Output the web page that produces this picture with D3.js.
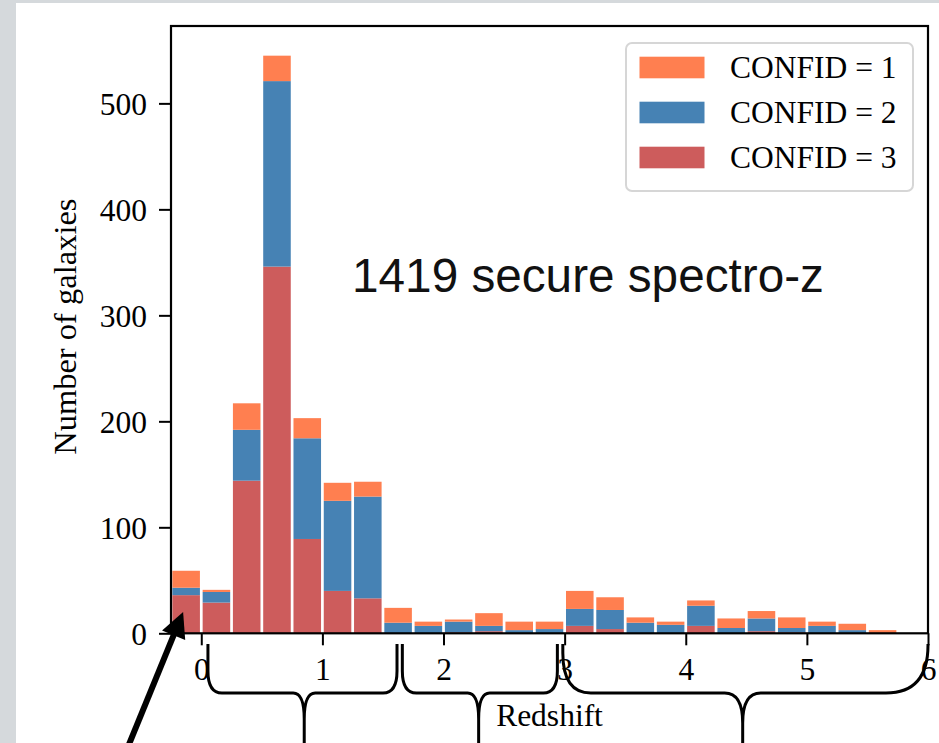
<!DOCTYPE html>
<html>
<head>
<meta charset="utf-8">
<script src="https://cdn.jsdelivr.net/npm/d3@7/dist/d3.min.js"></script>
<style>
  html, body { margin: 0; padding: 0; background: #d5d9dc; }
  svg { display: block; }
</style>
</head>
<body>
<svg id="chart" width="939" height="743"></svg>
<script>
// ---------------- data ----------------
const binStarts = [-0.25, 0, 0.25, 0.5, 0.75, 1.0, 1.25, 1.5, 1.75, 2.0, 2.25, 2.5,
                   2.75, 3.0, 3.25, 3.5, 3.75, 4.0, 4.25, 4.5, 4.75, 5.0, 5.25, 5.5];
const binWidth = 0.25;
const confid3 = [36, 29, 144, 346, 89, 40, 33, 0, 0, 1, 2, 0, 0, 7, 4, 0, 0, 7, 0, 2, 1, 0, 0, 0];
const confid2 = [7, 10, 48, 175, 95, 85, 96, 10, 7, 10, 5, 3, 4, 16, 18, 10, 8, 19, 5, 12, 4, 7, 3, 0];
const confid1 = [16, 2, 25, 24, 19, 17, 14, 14, 4, 2, 12, 8, 7, 17, 12, 5, 3, 5, 9, 7, 10, 4, 6, 3];
const seriesKeys = ["c3", "c2", "c1"];
const seriesLabels = { c1: "CONFID = 1", c2: "CONFID = 2", c3: "CONFID = 3" };
const seriesColors = { c1: "#ff7f50", c2: "#4682b4", c3: "#cd5c5c" };
const legendOrder = ["c1", "c2", "c3"];
const xTicks = [0, 1, 2, 3, 4, 5, 6];
const yTicks = [0, 100, 200, 300, 400, 500];
const xDomain = [-0.25, 6];
const yDomain = [0, 573];
const annotationText = "1419 secure spectro-z";
// braces: [start z, end z, cusp z]
const braces = [
  { x0: 0.055, x1: 1.616, xc: 0.85, rl: [14, 22], rr: [14, 22], cw: 11, cv: 26 },
  { x0: 1.66,  x1: 2.94,  xc: 2.29, rl: [14, 22], rr: [14, 22], cw: 11, cv: 26 },
  { x0: 2.985, x1: 6.0,   xc: 4.47, rl: [28, 40], rr: [42, 48], cw: 18, cv: 30 }
];
const arrowTip = { z: -0.15, n: 20 };

// ---------------- layout ----------------
const W = 939, H = 743;
const plot = { left: 171, right: 928, top: 26, bottom: 633.3 };
const serif = "'Liberation Serif', 'Times New Roman', Times, serif";
const sans = "'Liberation Sans', Arial, Helvetica, sans-serif";
const fs = 31.5;

const svg = d3.select("#chart");
svg.append("rect").attr("x", 0).attr("y", 0).attr("width", W).attr("height", H).attr("fill", "#d5d9dc");
svg.append("rect").attr("x", 16).attr("y", 3).attr("width", W - 16).attr("height", H - 3).attr("fill", "#ffffff");

const x = d3.scaleLinear().domain(xDomain).range([plot.left, plot.right]);
const y = d3.scaleLinear().domain(yDomain).range([plot.bottom, plot.top]);

const rows = binStarts.map((b, i) => ({ start: b, c3: confid3[i], c2: confid2[i], c1: confid1[i] }));
const stacked = d3.stack().keys(seriesKeys)(rows);

const rwidth = 0.91;
const g = svg.append("g");
stacked.forEach(layer => {
  g.append("g").attr("fill", seriesColors[layer.key])
    .selectAll("rect").data(layer).join("rect")
    .attr("x", d => x(d.data.start + binWidth * (1 - rwidth) / 2))
    .attr("width", d => x(d.data.start + binWidth * (1 + rwidth) / 2) - x(d.data.start + binWidth * (1 - rwidth) / 2))
    .attr("y", d => y(d[1]))
    .attr("height", d => Math.max(0, y(d[0]) - y(d[1])));
});

// axes
const xAxis = d3.axisBottom(x).tickValues(xTicks).tickSize(12).tickPadding(14).tickFormat(d3.format("d"));
const yAxis = d3.axisLeft(y).tickValues(yTicks).tickSize(12).tickPadding(12).tickFormat(d3.format("d"));

const gx = svg.append("g").attr("transform", `translate(0,${plot.bottom})`).call(xAxis);
const gy = svg.append("g").attr("transform", `translate(${plot.left},0)`).call(yAxis);
[gx, gy].forEach(ax => {
  ax.select(".domain").remove();
  ax.selectAll(".tick line").attr("stroke", "#000").attr("stroke-width", 2);
  ax.selectAll(".tick text").attr("fill", "#000").style("font-family", serif).style("font-size", fs + "px");
});
gx.selectAll(".tick text").attr("dy", null).attr("y", 680 - plot.bottom).attr("dominant-baseline", "alphabetic");
gy.selectAll(".tick text").attr("dy", "0.35em");

// frame
svg.append("rect").attr("x", plot.left).attr("y", plot.top)
  .attr("width", plot.right - plot.left).attr("height", plot.bottom - plot.top)
  .attr("fill", "none").attr("stroke", "#000").attr("stroke-width", 2.2);

// axis labels
svg.append("text").attr("x", (plot.left + plot.right) / 2).attr("y", 726)
  .attr("text-anchor", "middle").style("font-family", serif).style("font-size", fs + "px")
  .text("Redshift");
svg.append("text").attr("transform", `translate(76,${(plot.top + plot.bottom) / 2 - 3}) rotate(-90)`)
  .attr("text-anchor", "middle").style("font-family", serif).style("font-size", "32.5px")
  .text("Number of galaxies");

// legend
const lg = svg.append("g");
lg.append("rect").attr("x", 626).attr("y", 43).attr("width", 287).attr("height", 148)
  .attr("rx", 6).attr("fill", "#fff").attr("fill-opacity", 0.8)
  .attr("stroke", "#d6d6d6").attr("stroke-width", 2);
legendOrder.forEach((k, i) => {
  lg.append("rect").attr("x", 639.5).attr("y", 56.7 + i * 45).attr("width", 65).attr("height", 21.6)
    .attr("fill", seriesColors[k]);
  lg.append("text").attr("x", 730).attr("y", 78.3 + i * 45)
    .style("font-family", serif).style("font-size", fs + "px").text(seriesLabels[k]);
});

// annotation text
svg.append("text").attr("x", x(1.245)).attr("y", y(322))
  .style("font-family", sans).style("font-size", "47.7px").attr("fill", "#111")
  .text(annotationText);

// braces
const yTop = 644, yMid = 693, yBot = 748;
braces.forEach(b => {
  const X0 = x(b.x0), X1 = x(b.x1), XC = x(b.xc);
  const p = d3.path();
  p.moveTo(X0, yTop);
  p.lineTo(X0, yMid - b.rl[1]);
  p.quadraticCurveTo(X0, yMid, X0 + b.rl[0], yMid);
  p.lineTo(XC - b.cw, yMid);
  p.quadraticCurveTo(XC, yMid, XC, yMid + b.cv);
  p.lineTo(XC, yBot);
  p.moveTo(XC, yMid + b.cv);
  p.quadraticCurveTo(XC, yMid, XC + b.cw, yMid);
  p.lineTo(X1 - b.rr[0], yMid);
  p.quadraticCurveTo(X1, yMid, X1, yMid - b.rr[1]);
  p.lineTo(X1, yTop);
  svg.append("path").attr("d", p.toString()).attr("fill", "none")
    .attr("stroke", "#000").attr("stroke-width", 3).attr("stroke-linejoin", "round");
});

// arrow
const tx = x(arrowTip.z), ty = y(arrowTip.n);
const dir = [-0.379, 0.926];
const headLen = 25, headHalf = 12.5;
const bx = tx + dir[0] * headLen, by = ty + dir[1] * headLen;
const perp = [dir[1], -dir[0]];
const tailT = (750 - by) / dir[1];
svg.append("line").attr("x1", bx - dir[0] * 2).attr("y1", by - dir[1] * 2)
  .attr("x2", bx + dir[0] * tailT).attr("y2", 750)
  .attr("stroke", "#000").attr("stroke-width", 6);
svg.append("path").attr("d", d3.line()([
    [tx, ty],
    [bx + perp[0] * headHalf, by + perp[1] * headHalf],
    [bx - perp[0] * headHalf, by - perp[1] * headHalf]
  ]) + "Z").attr("fill", "#000");
</script>
</body>
</html>
